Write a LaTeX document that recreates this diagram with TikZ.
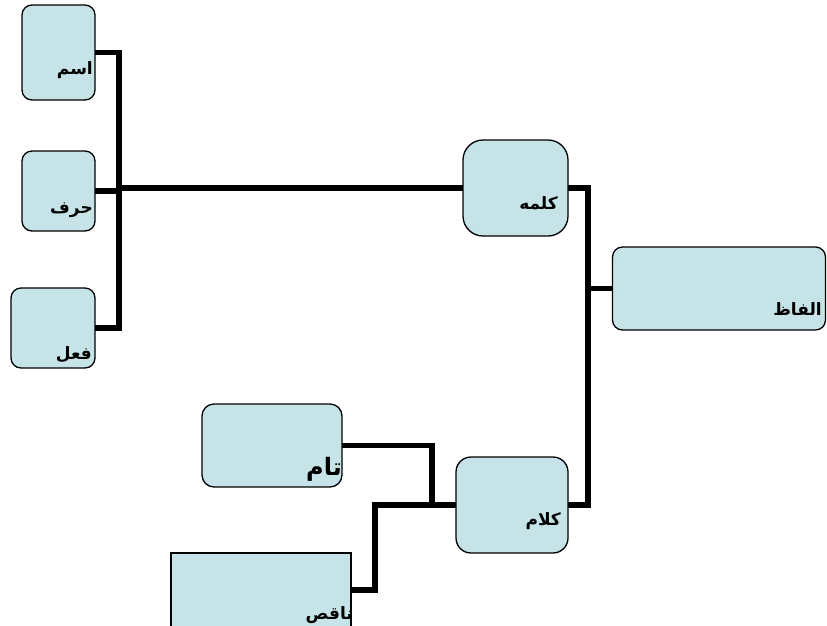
\documentclass[tikz,border=0pt]{standalone}
\usepackage{fontspec}
\newfontfamily\arabicfont[Script=Arabic]{DejaVu Sans}
\TeXXeTstate=1
\definecolor{boxfill}{RGB}{198,228,232}
\tikzset{
  box/.style={draw=black, line width=1.3pt, fill=boxfill, inner sep=0pt, outer sep=0pt},
  conn/.style={draw=black, line width=5.5pt, line join=miter},
  word/.style={inner sep=0pt, anchor=base east, font=\arabicfont\bfseries\fontsize{17}{20}\selectfont},
}
\begin{document}
\begin{tikzpicture}[x=1pt, y=-1pt]
\clip (0,0) rectangle (827,625);
\fill[white] (0,0) rectangle (827,625);

% junction points of the tree
\coordinate (jL) at (119,188);
\coordinate (jR) at (588,0);
\coordinate (jK) at (432,505);
\coordinate (jN) at (375,0);

% boxes
\node[box, rounded corners=10pt, minimum width=73pt, minimum height=95pt] (ism) at (58.5,52.5) {};
\node[box, rounded corners=10pt, minimum width=73pt, minimum height=80pt] (harf) at (58.5,191) {};
\node[box, rounded corners=10pt, minimum width=84pt, minimum height=80pt] (fel) at (53,328) {};
\node[box, rounded corners=20pt, minimum width=105pt, minimum height=96pt] (kalameh) at (515.5,188) {};
\node[box, rounded corners=10pt, minimum width=213pt, minimum height=83pt] (alfaz) at (719,288.5) {};
\node[box, rounded corners=12pt, minimum width=140pt, minimum height=83pt] (tam) at (272,445.5) {};
\node[box, rounded corners=15pt, minimum width=112pt, minimum height=96pt] (kalam) at (512,505) {};
\node[box, minimum width=180pt, minimum height=74pt] (naqes) at (261,590) {};

% left group
\draw[conn] (ism.east) -- (ism.east -| jL) -- (fel.east -| jL) -- (fel.east);
\draw[conn] (harf.east) -- (harf.east -| jL);
\draw[conn] (jL) -- (kalameh.west);
% right group
\draw[conn] (kalameh.east) -- (kalameh.east -| jR) -- (kalam.east -| jR) -- (kalam.east);
\draw[conn] (alfaz.west) -- (alfaz.west -| jR);
% lower group
\draw[conn] (kalam.west) -- (jK) |- (tam.east);
\draw[conn] (jK) -- (jK -| jN) -- (naqes.east -| jN) -- (naqes.east);

% labels
\node[word] (tism) at (93,74) {\beginR اسم\endR};
\node[word] (tharf) at (93,213) {\beginR حرف\endR};
\node[word] (tfel) at (92,359) {\beginR فعل\endR};
\node[word] (tkalameh) at (558,209) {\beginR کلمه\endR};
\node[word] (talfaz) at (822,315) {\beginR الفاظ\endR};
\node[word, font=\arabicfont\bfseries\fontsize{24}{28}\selectfont] (ttam) at (342,475) {\beginR تام\endR};
\node[word] (tkalam) at (561,525) {\beginR کلام\endR};
\node[word] (tnaqes) at (353,619) {\beginR ناقص\endR};
\end{tikzpicture}
\end{document}
